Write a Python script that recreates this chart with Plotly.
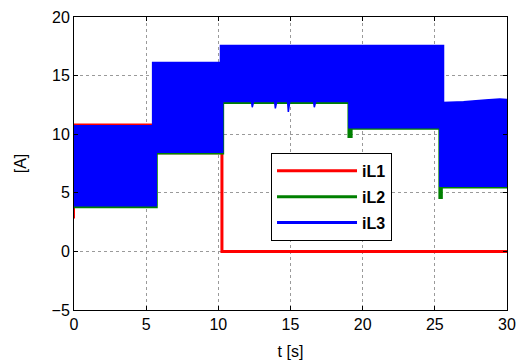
import plotly.graph_objects as go

# ---- data ----
# iL3 envelope (ripple band)
t3_up = [0, 5.5, 5.5, 10.2, 10.2, 25.55, 25.55, 27.0, 28.5, 29.5, 30]
iL3_up = [10.65, 10.65, 16.05, 16.05, 17.5, 17.5, 12.65, 12.7, 12.85, 12.95, 12.9]
t3_lo = [0, 5.7, 5.7, 10.3, 10.3, 12.3, 12.35, 12.45, 13.9, 13.95, 14.05, 14.8, 14.85, 14.95, 16.6, 16.65, 16.75, 19.05, 19.05, 25.35, 25.35, 30]
iL3_lo = [3.9, 3.9, 8.45, 8.45, 12.8, 12.8, 12.3, 12.8, 12.8, 12.2, 12.8, 12.8, 11.9, 12.8, 12.8, 12.3, 12.8, 12.8, 10.55, 10.55, 5.55, 5.55]

# iL2 envelope (mostly hidden beneath iL3)
t2_up = [0, 5.5, 5.5, 10.2, 10.2, 25.55, 25.55, 30]
iL2_up = [10.6, 10.6, 16.0, 16.0, 17.45, 17.45, 12.65, 12.85]
t2_lo = [0, 5.7, 5.7, 10.3, 10.3, 19.05, 19.05, 19.2, 19.2, 25.35, 25.35, 25.45, 25.45, 30]
iL2_lo = [3.8, 3.8, 8.4, 8.4, 12.7, 12.7, 9.8, 9.8, 10.5, 10.5, 4.6, 4.6, 5.5, 5.5]

# iL1 envelope: rippled until ~10.25 s, then 0
t1_up = [0, 5.5, 5.5, 10.25]
iL1_up = [10.85, 10.85, 16.0, 16.0]
t1_lo = [0, 5.7, 5.7, 10.25]
iL1_lo = [3.9, 3.9, 8.35, 8.35]
t1_start = [0, 0]
iL1_start = [2.8, 3.9]
t1_off = [10.25, 10.25, 30]
iL1_off = [8.35, 0, 0]

x_ticks = [0, 5, 10, 15, 20, 25, 30]
y_ticks = [-5, 0, 5, 10, 15, 20]

RED, GREEN, BLUE = "#ff0000", "#008000", "#0000ff"


def band(t_up, y_up, t_lo, y_lo):
    return list(t_up) + list(reversed(t_lo)), list(y_up) + list(reversed(y_lo))


fig = go.Figure()

# iL2 band (underneath)
bx, by = band(t2_up, iL2_up, t2_lo, iL2_lo)
fig.add_trace(go.Scatter(x=bx, y=by, mode="lines", fill="toself", fillcolor=GREEN,
                         line=dict(color=GREEN, width=1.5), showlegend=False))
# iL1 band
bx, by = band(t1_up, iL1_up, t1_lo, iL1_lo)
fig.add_trace(go.Scatter(x=bx, y=by, mode="lines", fill="toself", fillcolor=RED,
                         line=dict(color=RED, width=1.5), showlegend=False))
fig.add_trace(go.Scatter(x=t1_start, y=iL1_start, mode="lines", showlegend=False,
                         line=dict(color=RED, width=2)))

# line traces carrying the legend entries
fig.add_trace(go.Scatter(x=t1_off, y=iL1_off, mode="lines", name="iL1",
                         line=dict(color=RED, width=3), legendrank=1, legendgroup="g1"))
fig.add_trace(go.Scatter(x=t2_lo, y=iL2_lo, mode="lines", name="iL2",
                         line=dict(color=GREEN, width=3), legendrank=2, legendgroup="g2"))
fig.add_trace(go.Scatter(x=t3_up, y=iL3_up, mode="lines", name="iL3",
                         line=dict(color=BLUE, width=3), legendrank=3, legendgroup="g3"))
# iL3 band on top
bx, by = band(t3_up, iL3_up, t3_lo, iL3_lo)
fig.add_trace(go.Scatter(x=bx, y=by, mode="lines", fill="toself", fillcolor=BLUE,
                         line=dict(color=BLUE, width=1.5), showlegend=False))

FONT = "Arial, Liberation Sans, sans-serif"
axis_common = dict(
    showline=True, linecolor="black", linewidth=1, mirror="allticks",
    ticks="inside", ticklen=4, tickcolor="black",
    showgrid=True, gridcolor="#9a9a9a", gridwidth=1, griddash="dot",
    zeroline=False, automargin=False,
    tickfont=dict(family=FONT, size=16, color="black"),
)
fig.update_xaxes(range=[0, 30], tickvals=x_ticks,
                 title=dict(text="t [s]", font=dict(family=FONT, size=16, color="black"), standoff=13),
                 **axis_common)
fig.update_yaxes(range=[-5, 20], tickvals=y_ticks,
                 title=dict(text="[A]", font=dict(family=FONT, size=16, color="black"), standoff=20),
                 **axis_common)

fig.update_layout(
    width=521, height=364,
    margin=dict(l=74, r=14, t=17, b=54, autoexpand=False),
    paper_bgcolor="white", plot_bgcolor="white",
    showlegend=True,
    legend=dict(x=0.455, y=0.536, xanchor="left", yanchor="top",
                bgcolor="white", bordercolor="black", borderwidth=1,
                font=dict(family=FONT, size=16, color="black", weight="bold"),
                itemwidth=80, tracegroupgap=2, traceorder="grouped",
                entrywidth=72, entrywidthmode="pixels"),
)

fig.write_html("out.html", config={"displayModeBar": False},
               post_script="document.body.style.margin='0px';")
